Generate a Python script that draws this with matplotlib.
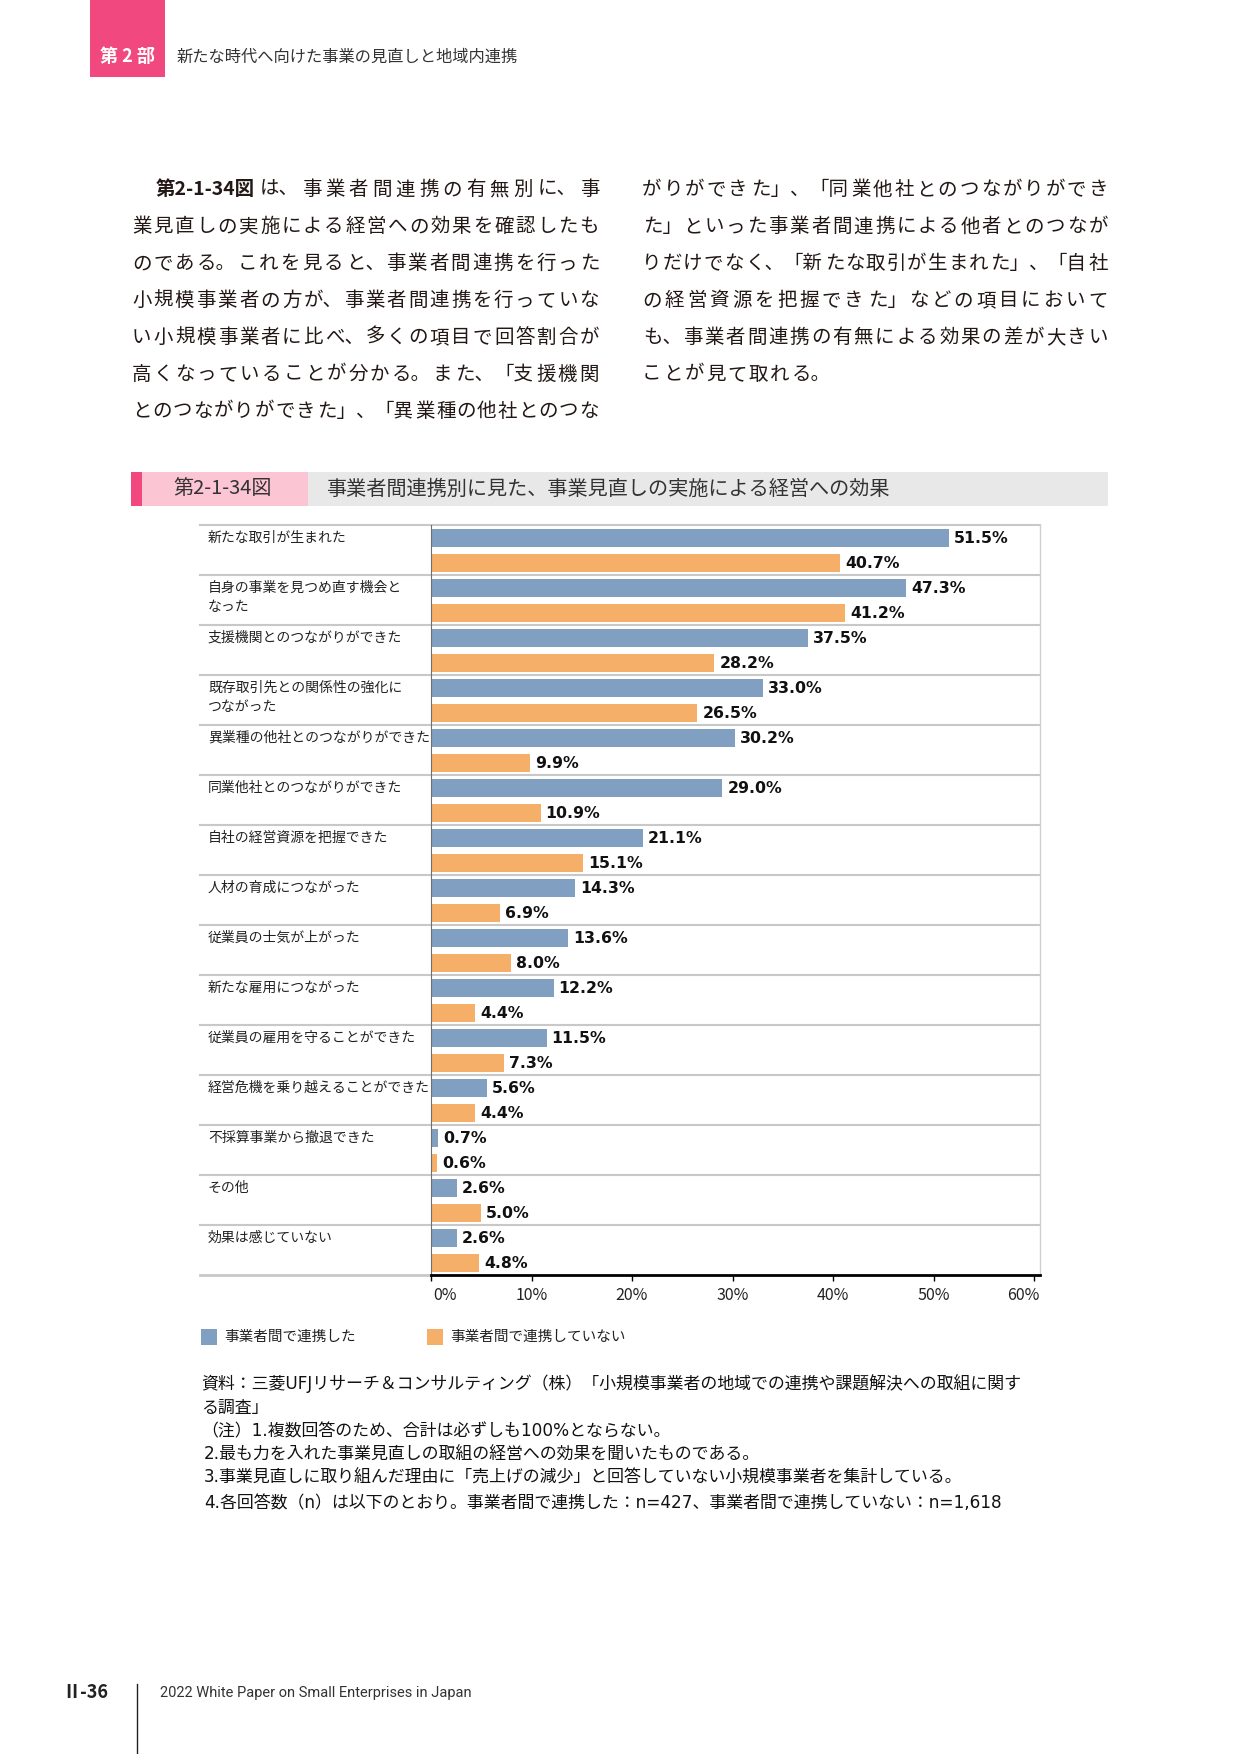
import matplotlib
matplotlib.use("Agg")
import matplotlib.pyplot as plt
from matplotlib.patches import Rectangle
from matplotlib.lines import Line2D
from matplotlib.font_manager import FontProperties

plt.rcParams['font.family'] = ['Noto Sans CJK JP', 'DejaVu Sans']

# ---- data -------------------------------------------------------------
CATEGORIES = [
    "新たな取引が生まれた",
    "自身の事業を見つめ直す機会と\nなった",
    "支援機関とのつながりができた",
    "既存取引先との関係性の強化に\nつながった",
    "異業種の他社とのつながりができた",
    "同業他社とのつながりができた",
    "自社の経営資源を把握できた",
    "人材の育成につながった",
    "従業員の士気が上がった",
    "新たな雇用につながった",
    "従業員の雇用を守ることができた",
    "経営危機を乗り越えることができた",
    "不採算事業から撤退できた",
    "その他",
    "効果は感じていない",
]
LINKED = [51.5, 47.3, 37.5, 33.0, 30.2, 29.0, 21.1, 14.3, 13.6, 12.2, 11.5, 5.6, 0.7, 2.6, 2.6]
NOT_LINKED = [40.7, 41.2, 28.2, 26.5, 9.9, 10.9, 15.1, 6.9, 8.0, 4.4, 7.3, 4.4, 0.6, 5.0, 4.8]
TICKS = [0, 10, 20, 30, 40, 50, 60]
LEGEND_LABELS = ["事業者間で連携した", "事業者間で連携していない"]

HEADER_PART = "第 2 部"
HEADER_TITLE = "新たな時代へ向けた事業の見直しと地域内連携"
FIG_NO = "第2-1-34図"
FIG_TITLE = "事業者間連携別に見た、事業見直しの実施による経営への効果"

BODY_LEFT = [
    "　**第2-1-34図**は、事業者間連携の有無別に、事",
    "業見直しの実施による経営への効果を確認したも",
    "のである。これを見ると、事業者間連携を行った",
    "小規模事業者の方が、事業者間連携を行っていな",
    "い小規模事業者に比べ、多くの項目で回答割合が",
    "高くなっていることが分かる。また、「支援機関",
    "とのつながりができた」、「異業種の他社とのつな",
]
BODY_RIGHT = [
    "がりができた」、「同業他社とのつながりができ",
    "た」といった事業者間連携による他者とのつなが",
    "りだけでなく、「新たな取引が生まれた」、「自社",
    "の経営資源を把握できた」などの項目において",
    "も、事業者間連携の有無による効果の差が大きい",
    "ことが見て取れる。",
]
NOTES = [
    "資料：三菱UFJリサーチ＆コンサルティング（株）「小規模事業者の地域での連携や課題解決への取組に関す",
    "る調査」",
    "（注）1.複数回答のため、合計は必ずしも100%とならない。",
    "2.最も力を入れた事業見直しの取組の経営への効果を聞いたものである。",
    "3.事業見直しに取り組んだ理由に「売上げの減少」と回答していない小規模事業者を集計している。",
    "4.各回答数（n）は以下のとおり。事業者間で連携した：n=427、事業者間で連携していない：n=1,618",
]
FOOTER_PAGE = "Ⅱ-36"
FOOTER_TEXT = "2022 White Paper on Small Enterprises in Japan"

BLUE = "#819FC1"
ORANGE = "#F5AF69"
PINK = "#F1497F"
LIGHT_PINK = "#FBC5D3"

W, H, DPI = 1241, 1754, 100


def fx(px):
    return px / W


def fy(py):
    return 1 - py / H


fig = plt.figure(figsize=(W / DPI, H / DPI), dpi=DPI)
fig.patch.set_facecolor("white")
renderer = fig.canvas.get_renderer()


def rect(x0, y0, x1, y1, color):
    fig.add_artist(Rectangle((fx(x0), fy(y1)), fx(x1) - fx(x0), (y1 - y0) / H,
                             transform=fig.transFigure, color=color, lw=0))


# ---- page header ------------------------------------------------------
rect(89.5, 0, 164.5, 77, PINK)
fig.text(fx(127), fy(57), HEADER_PART, color="white", fontsize=13, fontweight="bold",
         ha="center", va="center")
fig.text(fx(177), fy(57), HEADER_TITLE, color="#333333", fontsize=11.7, ha="left", va="center")


# ---- body text (justified, token by token) ----------------------------
OPEN = "「（"
CLOSE = "」、。）"


def tokenize(line):
    # tokens: [text, weight, n_cells or None for measured]
    tokens = []
    parts = line.split("**")
    for k, part in enumerate(parts):
        if k % 2 == 1:
            tokens.append([part, "bold", None])
            continue
        pending_open = ""
        for ch in part:
            if ch in CLOSE and tokens and tokens[-1][2] is not None:
                tokens[-1][0] += ch
                tokens[-1][2] += 1
            elif ch in OPEN:
                pending_open += ch
            else:
                tokens.append([pending_open + ch, "normal", len(pending_open) + 1])
                pending_open = ""
    return tokens


def draw_line(line, x0, x1, yc, size, justify=True, gap=0.0):
    em = size * DPI / 72
    tokens = tokenize(line)
    widths = []
    for text, weight, cells in tokens:
        if cells is None:
            fp = FontProperties(family=['Noto Sans CJK JP', 'DejaVu Sans'], size=size, weight=weight)
            w, _, _ = renderer.get_text_width_height_descent(text, fp, ismath=False)
            widths.append(w + 0.02 * em)
        else:
            widths.append(cells * em)
    if justify:
        gap = (x1 - x0 - sum(widths)) / (len(tokens) - 1)
    base = yc + 0.38 * em
    x = x0
    for (text, weight, cells), w in zip(tokens, widths):
        if text != "　":
            if cells is None or cells == 1:
                px, ha = x + w / 2, "center"
            elif text[0] in OPEN:
                px, ha = x + w - 0.04 * em, "right"
            else:
                px, ha = x + 0.04 * em, "left"
            fig.text(fx(px), fy(base), text, ha=ha, va="baseline", fontsize=size,
                     fontweight=weight, color="#231815")
        x += w + gap


BODY_SIZE = 14
BODY_Y0, BODY_DY = 188, 36.9
body_gap = (467 - 22 * BODY_SIZE * DPI / 72) / 21
for i, line in enumerate(BODY_LEFT):
    draw_line(line, 132, 599, BODY_Y0 + i * BODY_DY, BODY_SIZE)
for i, line in enumerate(BODY_RIGHT):
    last = i == len(BODY_RIGHT) - 1
    draw_line(line, 642, 1108, BODY_Y0 + i * BODY_DY, BODY_SIZE, justify=not last, gap=body_gap)

# ---- figure title bar -------------------------------------------------
rect(131, 472, 142, 506, PINK)
rect(142, 472, 308, 506, LIGHT_PINK)
rect(308, 472, 1108, 506, "#E8E8E8")
fig.text(fx(173), fy(489), FIG_NO, fontsize=14.5, color="#333333", ha="left", va="center")
fig.text(fx(326), fy(489), FIG_TITLE, fontsize=14.5, color="#333333", ha="left", va="center")

# ---- chart ------------------------------------------------------------
AX_L, AX_R, AX_T, AX_B = 431, 1040, 525, 1275
LAB_L = 200
ax = fig.add_axes([fx(AX_L), fy(AX_B), fx(AX_R) - fx(AX_L), (AX_B - AX_T) / H])
n = len(CATEGORIES)
rows = list(range(n))
ax.barh([r + 0.266 for r in rows], LINKED, height=0.36, color=BLUE, zorder=2)
ax.barh([r + 0.766 for r in rows], NOT_LINKED, height=0.36, color=ORANGE, zorder=2)
XMAX = (AX_R - AX_L) / 10.05
ax.set_xlim(0, XMAX)
ax.set_ylim(n, 0)


def axx(px):
    return (px - AX_L) / (AX_R - AX_L)


def axy(py):
    return (AX_B - py) / (AX_B - AX_T)


ytr = ax.get_yaxis_transform()
for r in range(n):
    ax.add_line(Line2D([axx(LAB_L), 1], [r, r], transform=ytr, color="#C8C8C8",
                       lw=1.5, clip_on=False, zorder=1))
ax.add_line(Line2D([axx(LAB_L), 0], [n, n], transform=ytr, color="#C8C8C8",
                   lw=2.0, clip_on=False, zorder=1))

for r, label in enumerate(CATEGORIES):
    for j, part in enumerate(label.split("\n")):
        ax.text(axx(208), r + 0.25 + 0.40 * j, part, transform=ytr, ha="left", va="center",
                fontsize=10, color="#222222", clip_on=False)

for r in rows:
    ax.text(LINKED[r] + 0.5, r + 0.266, f"{LINKED[r]:.1f}%", ha="left", va="center",
            fontsize=11.3, fontweight="bold", family="DejaVu Sans", color="#111111")
    ax.text(NOT_LINKED[r] + 0.5, r + 0.766, f"{NOT_LINKED[r]:.1f}%", ha="left", va="center",
            fontsize=11.3, fontweight="bold", family="DejaVu Sans", color="#111111")

ax.spines["top"].set_visible(False)
ax.spines["left"].set_color("#707070")
ax.spines["left"].set_linewidth(0.8)
ax.spines["right"].set_color("#D0D0D0")
ax.spines["right"].set_linewidth(1.0)
ax.spines["bottom"].set_color("black")
ax.spines["bottom"].set_linewidth(2.0)
ax.set_yticks([])
ax.set_xticks(TICKS)
ax.set_xticklabels([])
ax.tick_params(axis="x", length=4.5, width=1, color="black", direction="out")

xtr = ax.get_xaxis_transform()
for k, t in enumerate(TICKS):
    if k == 0:
        xpos, ha = t + 0.2, "left"
    elif k == len(TICKS) - 1:
        xpos, ha = XMAX, "right"
    else:
        xpos, ha = t, "center"
    ax.text(xpos, axy(1296), f"{t}%", transform=xtr, ha=ha, va="center",
            fontsize=11.5, color="#222222", clip_on=False)

# ---- legend -----------------------------------------------------------
rect(201, 1329, 217, 1345, BLUE)
rect(427, 1329, 443, 1345, ORANGE)
fig.text(fx(224), fy(1337), LEGEND_LABELS[0], fontsize=10.5, color="#222222", ha="left", va="center")
fig.text(fx(450), fy(1337), LEGEND_LABELS[1], fontsize=10.5, color="#222222", ha="left", va="center")

# ---- notes ------------------------------------------------------------
NOTE_Y = [1384, 1408, 1431, 1455, 1478, 1503]
NOTE_X = [201, 201, 201, 204, 204, 204]
for x, y, line in zip(NOTE_X, NOTE_Y, NOTES):
    fig.text(fx(x), fy(y), line, fontsize=12.2, color="#111111", ha="left", va="center",
             family=["DejaVu Sans", "Noto Sans CJK JP"])

# ---- footer -----------------------------------------------------------
fig.text(fx(62), fy(1693), FOOTER_PAGE, fontsize=13, fontweight="bold", color="#222222",
         ha="left", va="center")
fig.add_artist(Line2D([fx(137), fx(137)], [fy(1684), fy(1754)], transform=fig.transFigure,
                      color="#222222", lw=1.0))
fig.text(fx(160), fy(1693), FOOTER_TEXT, fontsize=10.5, color="#333333", ha="left", va="center",
         family=["Roboto", "DejaVu Sans"])

fig.savefig("out.png", dpi=DPI)
plt.close(fig)
